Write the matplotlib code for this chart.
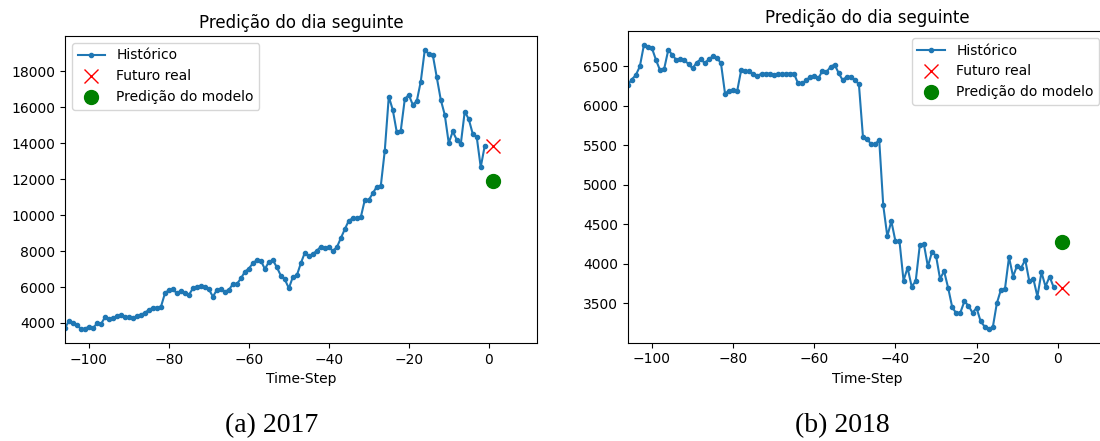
import matplotlib

matplotlib.use("Agg")
import matplotlib.pyplot as plt
import numpy as np

# historico de 106 passos (de -106 ate -1), leitura aproximada do grafico
historico_2017 = [
    3705, 4128, 3980, 3890, 3660, 3680, 3795, 3705, 3980, 3940,
    4317, 4200, 4260, 4390, 4445, 4350, 4317, 4260, 4390, 4445,
    4575, 4725, 4850, 4850, 4900, 5650, 5840, 5870, 5650, 5800,
    5650, 5560, 5930, 6020, 6050, 5980, 5870, 5465, 5840, 5870,
    5750, 5840, 6170, 6170, 6480, 6850, 7030, 7325, 7500, 7470,
    7000, 7400, 7500, 7100, 6630, 6420, 5930, 6560, 6650, 7325,
    7915, 7730, 7840, 8020, 8250, 8160, 8210, 8020, 8210, 8720,
    9220, 9700, 9830, 9830, 9890, 10850, 10850, 11220, 11590, 11630,
    13600, 16600, 15860, 14620, 14710, 16460, 16700, 16150, 16350, 17440,
    19200, 18980, 18930, 17680, 16430, 15590, 14010, 14660, 14200, 13940,
    15770, 15350, 14530, 14350, 12670, 13860,
]
historico_2018 = [
    6263, 6335, 6390, 6500, 6770, 6750, 6730, 6580, 6450, 6470,
    6707, 6650, 6580, 6600, 6580, 6530, 6475, 6550, 6590, 6545,
    6590, 6630, 6610, 6540, 6157, 6195, 6200, 6190, 6460, 6440,
    6440, 6400, 6380, 6410, 6410, 6410, 6390, 6410, 6400, 6410,
    6410, 6410, 6285, 6285, 6326, 6370, 6385, 6348, 6445, 6430,
    6495, 6525, 6418, 6326, 6370, 6370, 6330, 6275, 5606, 5585,
    5514, 5514, 5573, 4740, 4350, 4540, 4287, 4287, 3788, 3950,
    3712, 3780, 4232, 4254, 3966, 4147, 4105, 3810, 3906, 3695,
    3450, 3373, 3380, 3525, 3470, 3380, 3441, 3272, 3204, 3180,
    3195, 3500, 3670, 3682, 4084, 3839, 3978, 3950, 4050, 3780,
    3810, 3585, 3893, 3712, 3839, 3703,
]
futuro_real = [13850, 3695]
predicao_modelo = [11930, 4274]
legendas = ["Histórico", "Futuro real", "Predição do modelo"]
legenda_loc = ["upper left", "upper right"]
legendas_sub = ["(a) 2017", "(b) 2018"]
delta = 1


def show_plot(ax, historico, real, predicao, loc):
    time_steps = np.arange(-len(historico), 0)
    ax.set_title("Predição do dia seguinte")
    ax.plot(time_steps, historico, ".-", label=legendas[0])
    ax.plot(delta, real, "rx", markersize=10, label=legendas[1])
    ax.plot(delta, predicao, "go", markersize=10, label=legendas[2])
    ax.legend(loc=loc)
    ax.set_xlim([time_steps[0], (delta + 5) * 2])
    ax.set_xlabel("Time-Step")


fig = plt.figure(figsize=(11, 4.41), dpi=100)
ax_a = fig.add_axes([0.0591, 0.2222, 0.4288, 0.6962])
ax_b = fig.add_axes([0.5706, 0.2229, 0.4352, 0.7068])

show_plot(ax_a, historico_2017, futuro_real[0], predicao_modelo[0], legenda_loc[0])
show_plot(ax_b, historico_2018, futuro_real[1], predicao_modelo[1], legenda_loc[1])

fig.text(0.247, 0.036, legendas_sub[0], ha="center", va="center",
         family="Liberation Serif", fontsize=20)
fig.text(0.766, 0.036, legendas_sub[1], ha="center", va="center",
         family="Liberation Serif", fontsize=20)

fig.savefig("out.png", dpi=100)
plt.close(fig)
